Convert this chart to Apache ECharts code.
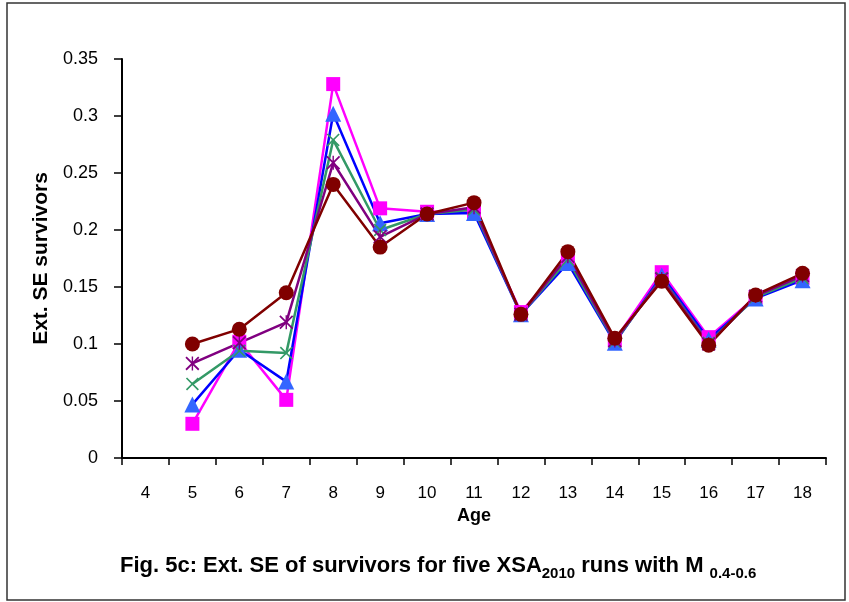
<!DOCTYPE html>
<html>
<head>
<meta charset="utf-8">
<script src="https://cdn.jsdelivr.net/npm/echarts@6/dist/echarts.min.js"></script>
<style>html,body{margin:0;padding:0;background:#fff}#c{width:849px;height:602px}</style>
</head>
<body>
<div id="c"></div>
<script>
const ages = ['4','5','6','7','8','9','10','11','12','13','14','15','16','17','18'];
const yTicks = [0, 0.05, 0.1, 0.15, 0.2, 0.25, 0.3, 0.35];
const runMagenta = [null, 0.030, 0.102, 0.051, 0.328, 0.219, 0.216, 0.216, 0.128, 0.175, 0.103, 0.163, 0.106, 0.141, 0.158];
const runBlue    = [null, 0.047, 0.095, 0.067, 0.302, 0.206, 0.214, 0.215, 0.126, 0.171, 0.101, 0.160, 0.104, 0.140, 0.156];
const runGreen   = [null, 0.065, 0.094, 0.092, 0.279, 0.200, 0.214, 0.218, 0.126, 0.174, 0.102, 0.158, 0.101, 0.141, 0.158];
const runPurple  = [null, 0.083, 0.101, 0.119, 0.259, 0.194, 0.214, 0.220, 0.126, 0.177, 0.103, 0.157, 0.100, 0.142, 0.160];
const runBrown   = [null, 0.100, 0.113, 0.145, 0.240, 0.185, 0.214, 0.224, 0.126, 0.181, 0.105, 0.155, 0.099, 0.143, 0.162];

const xPath = 'path://M0,9L9,0L100,91L91,100ZM91,0L100,9L9,100L0,91Z';
const starPath = 'path://M0,9L9,0L100,91L91,100ZM91,0L100,9L9,100L0,91ZM45,0L55,0L55,100L45,100Z';

function mk(name, data, lineColor, markColor, symbol, size) {
  return {
    name: name, type: 'line', data: data, symbol: symbol, symbolSize: size,
    showAllSymbol: true, connectNulls: false,
    lineStyle: {color: lineColor, width: 2.5},
    itemStyle: {color: markColor, borderWidth: 0},
    emphasis: {disabled: true}, animation: false
  };
}

const capFont = 'Liberation Sans, Arial, sans-serif';
const chart = echarts.init(document.getElementById('c'), null, {renderer: 'canvas'});
chart.setOption({
  animation: false,
  backgroundColor: '#ffffff',
  textStyle: {fontFamily: 'Liberation Sans, Arial, sans-serif'},
  grid: {left: 122, right: 23, top: 59, bottom: 144, containLabel: false},
  title: {
    text: '{b|Fig. 5c: Ext. SE of survivors for five XSA}{s|2010}{b| runs with M }{s|0.4-0.6}',
    left: 115, top: 546,
    textStyle: {
      rich: {
        b: {fontSize: 22, fontWeight: 'bold', color: '#000', fontFamily: capFont, verticalAlign: 'bottom', lineHeight: 26},
        s: {fontSize: 15, fontWeight: 'bold', color: '#000', fontFamily: capFont, verticalAlign: 'bottom', lineHeight: 26, padding: [0,0,-4,0]}
      }
    }
  },
  graphic: [{
    type: 'rect', shape: {x: 7, y: 3, width: 838, height: 597},
    style: {fill: 'none', stroke: '#333', lineWidth: 1.5}, silent: true, z: -1
  }],
  xAxis: {
    type: 'category', data: ages, boundaryGap: true,
    name: 'Age', nameLocation: 'middle', nameGap: 47,
    nameTextStyle: {fontSize: 18, fontWeight: 'bold', color: '#000'},
    axisLine: {lineStyle: {color: '#000', width: 2}},
    axisTick: {show: true, length: 7, lineStyle: {color: '#000', width: 1.5}},
    axisLabel: {fontSize: 17, color: '#000', margin: 27, interval: 0},
    splitLine: {show: false}
  },
  yAxis: {
    type: 'value', min: yTicks[0], max: yTicks[yTicks.length - 1], interval: 0.05,
    name: 'Ext. SE survivors', nameLocation: 'middle', nameGap: 70,
    nameTextStyle: {fontSize: 21, fontWeight: 'bold', color: '#000'},
    axisLine: {show: true, lineStyle: {color: '#000', width: 2}},
    axisTick: {show: true, length: 8, lineStyle: {color: '#000', width: 1.5}},
    axisLabel: {fontSize: 18, color: '#000', margin: 24, formatter: v => String(+v.toFixed(2))},
    splitLine: {show: false}
  },
  series: [
    mk('M 0.4', runMagenta, '#FF00FF', '#FF00FF', 'rect', 14),
    mk('M 0.45', runBlue, '#0000FF', '#3366FF', 'triangle', 16),
    mk('M 0.5', runGreen, '#339966', '#339966', xPath, 13),
    mk('M 0.55', runPurple, '#800080', '#800080', starPath, 14),
    mk('M 0.6', runBrown, '#800000', '#800000', 'circle', 15)
  ]
});
</script>
</body>
</html>
